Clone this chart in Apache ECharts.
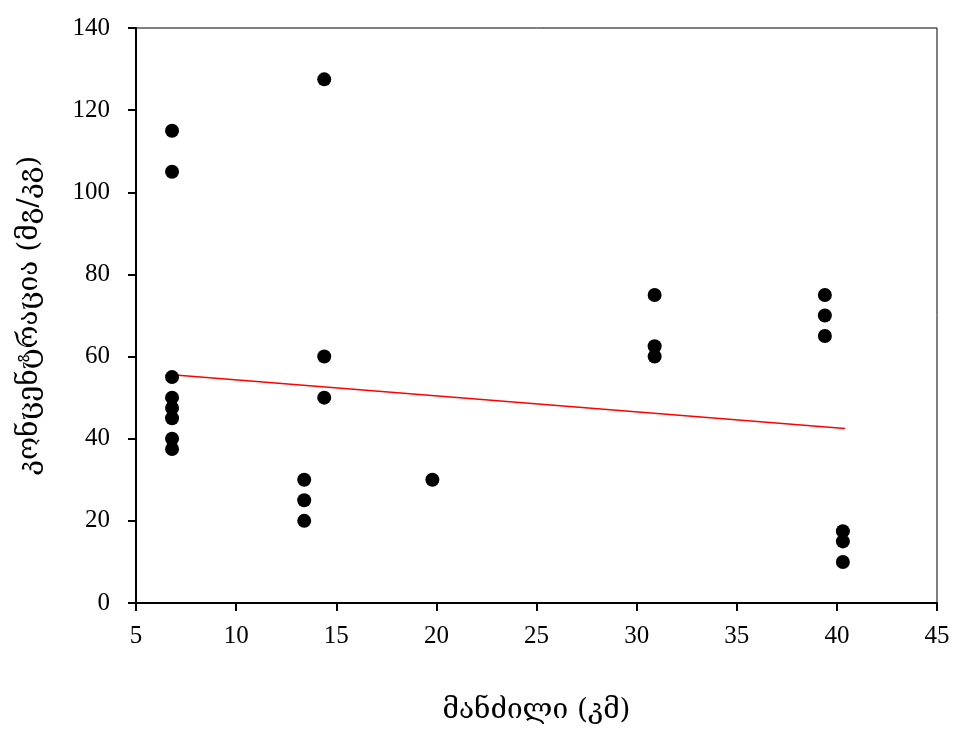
<!DOCTYPE html>
<html>
<head>
<meta charset="utf-8">
<script src="https://cdn.jsdelivr.net/npm/echarts@6/dist/echarts.min.js"></script>
<style>html,body{margin:0;padding:0;background:#fff}#c{width:958px;height:734px}</style>
</head>
<body>
<div id="c"></div>
<script>
const distanceKm = [6.8,6.8,6.8,6.8,6.8,6.8,6.8,6.8,14.4,14.4,14.4,13.4,13.4,13.4,19.8,30.9,30.9,30.9,39.4,39.4,39.4,40.3,40.3,40.3];
const concentration = [115,105,55,50,47.5,45,40,37.5,127.5,60,50,30,25,20,30,75,62.5,60,75,70,65,17.5,15,10];
const trendX = [6.8, 40.4];
const trendY = [55.6, 42.5];
const xTitle = 'მანძილი (კმ)';
const yTitle = 'კონცენტრაცია (მგ/კგ)';

const chart = echarts.init(document.getElementById('c'), null, {renderer:'canvas'});
const serif = '"Liberation Serif", "DejaVu Serif", serif';
const geo = '"DejaVu Serif", "Liberation Serif", serif';
chart.setOption({
  animation:false,
  backgroundColor:'#fff',
  grid:{left:136,right:21,top:28,bottom:131,show:true,borderColor:'#000',borderWidth:1,backgroundColor:'transparent'},
  xAxis:{type:'value',min:5,max:45,interval:5,
    name:xTitle,nameLocation:'middle',nameGap:94,
    nameTextStyle:{fontFamily:geo,fontSize:28,color:'#000'},
    axisLine:{show:true,onZero:false,lineStyle:{color:'#000',width:2}},
    axisTick:{show:true,length:8,inside:false,lineStyle:{color:'#000',width:2}},
    axisLabel:{fontFamily:serif,fontSize:25,color:'#000',margin:21},
    splitLine:{show:false}},
  yAxis:{type:'value',min:0,max:140,interval:20,
    name:yTitle,nameLocation:'middle',nameGap:92,nameRotate:90,
    nameTextStyle:{fontFamily:geo,fontSize:28,color:'#000'},
    axisLine:{show:true,onZero:false,lineStyle:{color:'#000',width:2}},
    axisTick:{show:true,length:8,inside:false,lineStyle:{color:'#000',width:2}},
    axisLabel:{fontFamily:serif,fontSize:25,color:'#000',margin:26},
    splitLine:{show:false}},
  series:[
    {type:'scatter',data:distanceKm.map((x,i)=>[x,concentration[i]]),symbol:'circle',symbolSize:14,itemStyle:{color:'#000',opacity:1},z:3},
    {type:'line',data:trendX.map((x,i)=>[x,trendY[i]]),symbol:'none',lineStyle:{color:'#ff0000',width:1.5},z:2}
  ]
});
</script>
</body>
</html>
